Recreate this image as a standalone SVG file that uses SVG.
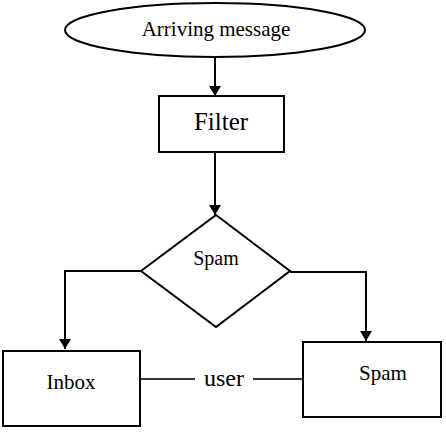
<svg xmlns="http://www.w3.org/2000/svg" width="446" height="433" viewBox="0 0 446 433">
<style>
.s{fill:#fff;stroke:#000;stroke-width:2}
.c{fill:none;stroke:#000;stroke-width:2}
.u{fill:none;stroke:#333;stroke-width:2}
.t{font-family:'Liberation Serif','Times New Roman',Times,serif;fill:#000;text-anchor:middle}
</style>
<defs>
<marker id="a" viewBox="0 0 10 12" refX="10" refY="6" markerWidth="10" markerHeight="12" markerUnits="userSpaceOnUse" orient="auto">
<path d="M0,0 L10,6 L0,12 Z" fill="#000"/>
</marker>
</defs>
<g id="connectors">
<line class="c" x1="215" y1="58" x2="215" y2="96" marker-end="url(#a)"/>
<line class="c" x1="215" y1="152" x2="215" y2="215" marker-end="url(#a)"/>
<polyline class="c" points="141,271 65,271 65,349" marker-end="url(#a)"/>
<polyline class="c" points="290,272 366,272 366,341" marker-end="url(#a)"/>
<line class="u" x1="140" y1="379" x2="195" y2="379"/>
<line class="u" x1="253" y1="379" x2="310" y2="379"/>
<text class="t" x="224" y="386" font-size="24">user</text>
</g>
<g id="arriving">
<ellipse class="s" cx="215" cy="30" rx="150" ry="27"/>
<text class="t" x="216" y="36" font-size="21">Arriving message</text>
</g>
<g id="filter">
<rect class="s" x="159" y="96" width="125" height="56"/>
<text class="t" x="221" y="130" font-size="25">Filter</text>
</g>
<g id="decision">
<polygon class="s" points="216,215 290,271 216,327 141,271"/>
<text class="t" x="216" y="265" font-size="20">Spam</text>
</g>
<g id="inbox">
<rect class="s" x="3" y="351" width="137" height="75"/>
<text class="t" x="71" y="389" font-size="21">Inbox</text>
</g>
<g id="spam">
<rect class="s" x="303" y="342" width="138" height="75"/>
<text class="t" x="383" y="380" font-size="21">Spam</text>
</g>
</svg>
